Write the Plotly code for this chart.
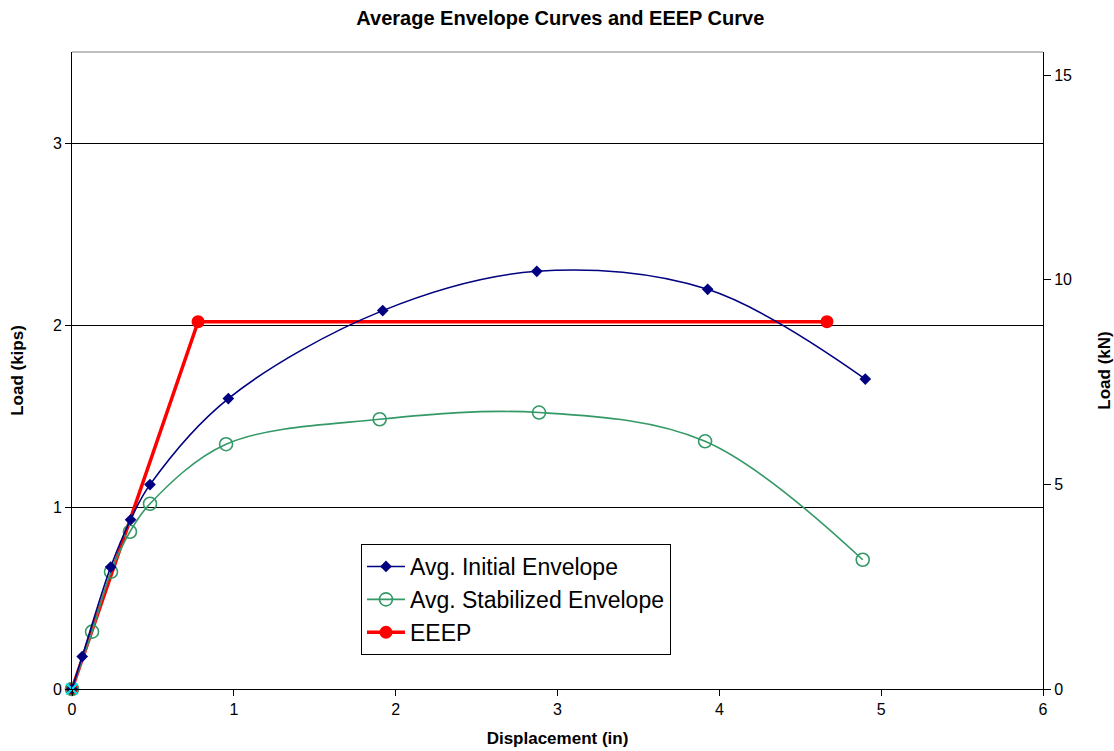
import plotly.graph_objects as go

# Average envelope data (displacement in inches, load in kips)
initial_disp = [0, 0.063, 0.239, 0.362, 0.482, 0.966, 1.92, 2.872, 3.928, 4.902]
initial_load = [0, 0.178, 0.670, 0.930, 1.123, 1.596, 2.079, 2.295, 2.196, 1.703]

stabilized_disp = [0, 0.124, 0.241, 0.358, 0.482, 0.952, 1.901, 2.886, 3.912, 4.886]
stabilized_load = [0, 0.315, 0.644, 0.864, 1.018, 1.345, 1.482, 1.519, 1.361, 0.71]

# Equivalent energy elastic-plastic curve
eeep_disp = [0, 0.779, 4.665]
eeep_load = [0, 2.018, 2.018]

origin_disp = [0]
origin_load = [0]

KIPS_TO_KN = 4.448
Y_MAX_KIPS = 3.5

FONT = "Arial, Liberation Sans, sans-serif"

fig = go.Figure()

fig.add_trace(go.Scatter(
    x=eeep_disp, y=eeep_load, name="EEEP", mode="lines+markers",
    line=dict(color="#FF0000", width=3.5),
    marker=dict(symbol="circle", size=13, color="#FF0000"),
    cliponaxis=False, legendrank=3,
))

fig.add_trace(go.Scatter(
    x=stabilized_disp, y=stabilized_load, name="Avg. Stabilized Envelope",
    mode="lines+markers",
    line=dict(color="#339966", width=1.6, shape="spline", smoothing=1),
    marker=dict(symbol="circle-open", size=13, color="#339966",
                line=dict(width=1.6)),
    cliponaxis=False, legendrank=2,
))

fig.add_trace(go.Scatter(
    x=initial_disp, y=initial_load, name="Avg. Initial Envelope",
    mode="lines+markers",
    line=dict(color="#000080", width=1.6, shape="spline", smoothing=1),
    marker=dict(symbol="diamond", size=9, color="#000080"),
    cliponaxis=False, legendrank=1,
))

fig.add_trace(go.Scatter(
    x=origin_disp, y=origin_load, mode="markers", showlegend=False,
    marker=dict(symbol="x-thin", size=11, color="#00E5E5",
                line=dict(width=2.2, color="#00E5E5")),
    cliponaxis=False,
))

# Secondary load scale in kN
fig.add_trace(go.Scatter(
    x=eeep_disp, y=[v * KIPS_TO_KN for v in eeep_load], yaxis="y2",
    mode="lines", line=dict(color="rgba(0,0,0,0)"), showlegend=False,
    hoverinfo="skip",
))

fig.update_layout(
    width=1114, height=751,
    margin=dict(l=72, r=71, t=52, b=62, autoexpand=False),
    paper_bgcolor="white", plot_bgcolor="white",
    font=dict(family=FONT, size=16, color="black"),
    title=dict(text="<b>Average Envelope Curves and EEEP Curve</b>",
               x=0.503, xanchor="center", y=0.976, yanchor="middle",
               font=dict(size=20, family=FONT)),
    xaxis=dict(
        range=[0, 6], dtick=1, tick0=0, showgrid=False, zeroline=False,
        showline=True, linecolor="black", linewidth=1,
        ticks="outside", ticklen=6, tickcolor="black",
        tickfont=dict(size=16), automargin=False,
        title=dict(text="<b>Displacement (in)</b>", standoff=14,
                   font=dict(size=17)),
    ),
    yaxis=dict(
        range=[0, Y_MAX_KIPS], dtick=1, tick0=0, showgrid=True,
        gridcolor="black", gridwidth=1, zeroline=False,
        showline=True, linecolor="black", linewidth=1,
        ticks="outside", ticklen=6, tickcolor="black",
        tickfont=dict(size=16), automargin=False,
        title=dict(text="<b>Load (kips)</b>", standoff=24,
                   font=dict(size=17)),
    ),
    yaxis2=dict(
        overlaying="y", side="right",
        range=[0, Y_MAX_KIPS * KIPS_TO_KN], dtick=5, tick0=0,
        showgrid=False, zeroline=False,
        showline=True, linecolor="black", linewidth=1,
        ticks="outside", ticklen=7, tickcolor="black",
        tickfont=dict(size=16), automargin=False,
        title=dict(text="<b>Load (kN)</b>", standoff=28,
                   font=dict(size=17)),
    ),
    legend=dict(
        x=0.2976, y=0.2276, xanchor="left", yanchor="top",
        bgcolor="white", bordercolor="black", borderwidth=1,
        font=dict(size=23, family=FONT),
        itemwidth=38,
        traceorder="normal",
    ),
    shapes=[dict(type="line", xref="paper", yref="paper",
                 x0=0, x1=1, y0=1, y1=1,
                 line=dict(color="#808080", width=1))],
)

fig.write_html("out.html")
